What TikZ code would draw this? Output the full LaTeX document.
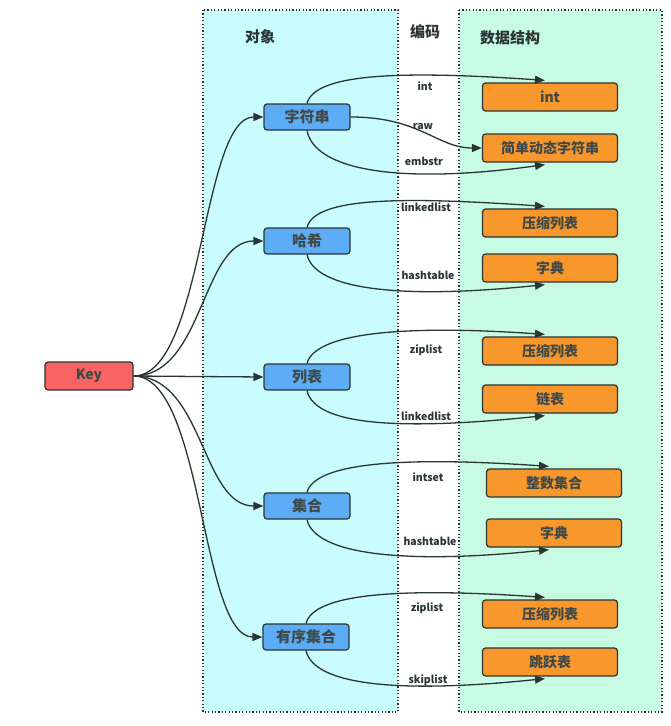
\documentclass[tikz,border=0pt]{standalone}
\usepackage{fontspec}
\setmainfont{Noto Sans CJK SC}
\usetikzlibrary{arrows.meta,calc}
\definecolor{cyanbg}{HTML}{C9FDFD}
\definecolor{greenbg}{HTML}{C8FBE3}
\definecolor{objfill}{HTML}{5CADF5}
\definecolor{dsfill}{HTML}{F7972C}
\definecolor{keyfill}{HTML}{F66464}
\definecolor{ink}{HTML}{2B3535}
\begin{document}
\begin{tikzpicture}[x=1pt,y=-1pt,
  box/.style={draw=ink,line width=1.2pt,rounded corners=3pt,font=\bfseries\fontsize{14}{16}\selectfont,text=ink!90,inner sep=0pt},
  objbox/.style={box,fill=objfill,minimum width=86pt,minimum height=26pt,font=\bfseries\fontsize{15}{17}\selectfont},
  dsbox/.style={box,fill=dsfill,minimum width=135pt,minimum height=28pt},
  keybox/.style={box,fill=keyfill,minimum width=88pt,minimum height=28pt},
  enc/.style={font=\bfseries\fontsize{10.5}{12}\selectfont,text=ink,inner sep=1pt},
  head/.style={font=\bfseries\fontsize{15}{17}\selectfont,text=ink},
  conn/.style={draw=ink,line width=1.3pt,-{Triangle[length=10pt,width=8pt]}},
  region/.style={draw=ink,line width=1.1pt,dash pattern=on 1.2pt off 2.2pt}]
\useasboundingbox (0,0) rectangle (670,726);
\fill[white] (0,0) rectangle (670,726);
% regions
\fill[cyanbg] (203,10) rectangle (398,712);
\fill[greenbg] (459,10) rectangle (662,712);
\draw[region] (203,10) rectangle (398,712);
\draw[region] (459,10) rectangle (662,712);
% headings
\node[head] (hobj) at (260,37) {对象};
\node[head] (henc) at (425,32) {编码};
\node[head] (hds) at (510,38) {数据结构};
% key
\node[keybox] (key) at (89,376) {Key};
% objects
\node[objbox] (o1) at (307,117) {字符串};
\node[objbox] (o2) at (307,241) {哈希};
\node[objbox] (o3) at (307,377) {列表};
\node[objbox] (o4) at (307,506) {集合};
\node[objbox] (o5) at (306,637) {有序集合};
% data structures
\node[dsbox] (d1) at (550,97) {int};
\node[dsbox] (d2) at (550,148) {简单动态字符串};
\node[dsbox] (d3) at (550,223) {压缩列表};
\node[dsbox] (d4) at (550,268) {字典};
\node[dsbox] (d5) at (550,351) {压缩列表};
\node[dsbox] (d6) at (550,399) {链表};
\node[dsbox] (d7) at (554,483) {整数集合};
\node[dsbox] (d8) at (554,533) {字典};
\node[dsbox] (d9) at (550,614) {压缩列表};
\node[dsbox] (d10) at (550,662) {跳跃表};
% key connectors
\foreach \o in {o1,o2,o4,o5}
  \draw[conn] (key.east) .. controls +(70,0) and +(-62,0) .. (\o.west);
\draw[conn] (key.east) -- (o3.west);
% encoding connectors
\draw[conn] (o1.north) .. controls +(8,-30) and +(-145,-10) .. ([xshift=-5pt,yshift=2pt]d1.north);
\draw[conn] (o1.east) .. controls +(70,0) and +(-45,0) .. (d2.west);
\draw[conn] (o1.south) .. controls +(8,40) and +(-145,20) .. ([xshift=-5pt,yshift=-2pt]d2.south);
\draw[conn] (o2.north) .. controls +(8,-30) and +(-145,-10) .. ([xshift=-5pt,yshift=2pt]d3.north);
\draw[conn] (o2.south) .. controls +(8,35) and +(-145,15) .. ([xshift=-5pt,yshift=-2pt]d4.south);
\draw[conn] (o3.north) .. controls +(8,-30) and +(-145,-10) .. ([xshift=-5pt,yshift=2pt]d5.north);
\draw[conn] (o3.south) .. controls +(8,35) and +(-145,15) .. ([xshift=-5pt,yshift=-2pt]d6.south);
\draw[conn] (o4.north) .. controls +(8,-30) and +(-145,-10) .. ([xshift=-5pt,yshift=2pt]d7.north);
\draw[conn] (o4.south) .. controls +(8,35) and +(-145,15) .. ([xshift=-5pt,yshift=-2pt]d8.south);
\draw[conn] (o5.north) .. controls +(8,-30) and +(-145,-10) .. ([xshift=-5pt,yshift=2pt]d9.north);
\draw[conn] (o5.south) .. controls +(8,35) and +(-145,15) .. ([xshift=-5pt,yshift=-2pt]d10.south);
% encoding labels
\node[enc] (l1) at (425,86) {int};
\node[enc] (l2) at (423,127) {raw};
\node[enc] (l3) at (424,161) {embstr};
\node[enc] (l4) at (426,207) {linkedlist};
\node[enc] (l5) at (428,275) {hashtable};
\node[enc] (l6) at (426,350) {ziplist};
\node[enc] (l7) at (426,416) {linkedlist};
\node[enc] (l8) at (428,477) {intset};
\node[enc] (l9) at (430,541) {hashtable};
\node[enc] (l10) at (427,608) {ziplist};
\node[enc] (l11) at (428,680) {skiplist};
\end{tikzpicture}
\end{document}
